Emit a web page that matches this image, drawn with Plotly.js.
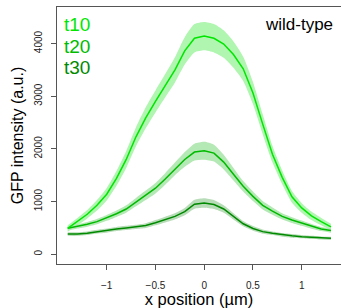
<!DOCTYPE html>
<html><head><meta charset="utf-8">
<script src="https://cdn.plot.ly/plotly-3.0.1.min.js"></script>
<style>html,body{margin:0;padding:0;background:#fff}#c{width:341px;height:308px}</style>
</head><body><div id="c"></div>
<script>
const xPos = [-1.4,-1.3,-1.2,-1.1,-1.0,-0.9,-0.8,-0.7,-0.6,-0.5,-0.4,-0.3,-0.2,-0.1,0,0.1,0.2,0.3,0.4,0.5,0.6,0.7,0.8,0.9,1.0,1.1,1.2,1.3];
const t10 = [490,620,760,930,1140,1440,1800,2230,2590,2900,3200,3500,3860,4100,4140,4100,3990,3790,3520,3060,2470,1900,1460,1090,880,730,620,520];
const t10sd = [60,70,80,100,120,140,160,180,200,210,220,240,260,270,270,270,260,250,230,210,190,160,130,110,90,80,70,60];
const t20 = [493,530,570,620,690,770,860,990,1120,1255,1430,1620,1800,1940,1966,1920,1750,1520,1290,1100,930,820,720,650,590,530,480,450];
const t20sd = [40,40,45,50,55,60,70,80,90,100,110,120,140,160,170,160,140,120,100,90,80,70,60,55,50,45,40,40];
const t30 = [385,385,400,430,450,480,500,520,545,600,660,720,810,950,975,945,860,720,580,490,430,400,370,350,335,320,310,303];
const t30sd = [35,35,35,35,40,40,40,40,45,50,55,60,70,85,90,85,70,60,50,45,40,35,35,35,30,30,30,30];
const seriesNames = ["t10","t20","t30"];
const lineColors = ["#00e600","#00bb00","#008a00"];
const bandColors = ["#b0f5b0","#b4e8b4","#b8dcb8"];
const yTicks = [0,1000,2000,3000,4000];
const xTicks = [-1,-0.5,0,0.5,1];

const vals = [t10,t20,t30], sds = [t10sd,t20sd,t30sd];
const traces = [];
for (let i = 0; i < 3; i++) {
  const v = vals[i], s = sds[i];
  traces.push({x: xPos, y: v.map((d,k)=>d - s[k]), mode:'lines', line:{width:0, color:bandColors[i], shape:'spline', smoothing:0.6}, hoverinfo:'skip', showlegend:false});
  traces.push({x: xPos, y: v.map((d,k)=>d + s[k]), mode:'lines', line:{width:0, color:bandColors[i], shape:'spline', smoothing:0.6}, fill:'tonexty', fillcolor:bandColors[i], hoverinfo:'skip', showlegend:false});
}
for (let i = 2; i >= 0; i--) {
  traces.push({x: xPos, y: vals[i], mode:'lines', line:{width:1.5, color:lineColors[i]}, name:seriesNames[i], showlegend:false});
}
const font = "Liberation Sans, Arial, Helvetica, sans-serif";
const annotations = seriesNames.map((n,i)=>({
  text:n, xref:'paper', yref:'paper', x:0.018, y:1 - (18 + i*21)/257, xanchor:'left', yanchor:'middle',
  showarrow:false, font:{family:font, size:19, color:lineColors[i]}
}));
annotations.push({text:'wild-type', xref:'paper', yref:'paper', x:(335-57)/284, y:1-(18)/257, xanchor:'right', yanchor:'middle', showarrow:false, font:{family:font, size:17, color:'#000'}});

const layout = {
  width:341, height:308, margin:{l:57, r:0, t:7, b:44},
  paper_bgcolor:'#fff', plot_bgcolor:'#fff', showlegend:false,
  font:{family:font, color:'#000'},
  xaxis:{range:[-1.51,1.403], tickvals:xTicks, ticktext:xTicks.map(t=>t<0?'\u2212'+Math.abs(t):String(t)), ticks:'outside', ticklen:5, tickcolor:'#555', tickwidth:1,
    ticklabelstandoff:7,
    showline:true, linecolor:'#555', linewidth:1, mirror:true, showgrid:false, zeroline:false,
    tickfont:{size:10, color:'#222', family:font},
    title:{text:'x position (µm)', font:{size:16.5, color:'#000', family:font}, standoff:0}},
  yaxis:{range:[-184,4693], tickvals:yTicks, ticks:'outside', ticklen:5, tickcolor:'#555', tickwidth:1, tickangle:-90,
    ticklabelstandoff:5,
    showline:true, linecolor:'#555', linewidth:1, showgrid:false, zeroline:false,
    tickfont:{size:10, color:'#222', family:font},
    title:{text:'GFP intensity (a.u.)', font:{size:16, color:'#000', family:font}, standoff:5}},
  annotations:annotations
};
Plotly.newPlot('c', traces, layout, {staticPlot:true, displayModeBar:false});
</script></body></html>
